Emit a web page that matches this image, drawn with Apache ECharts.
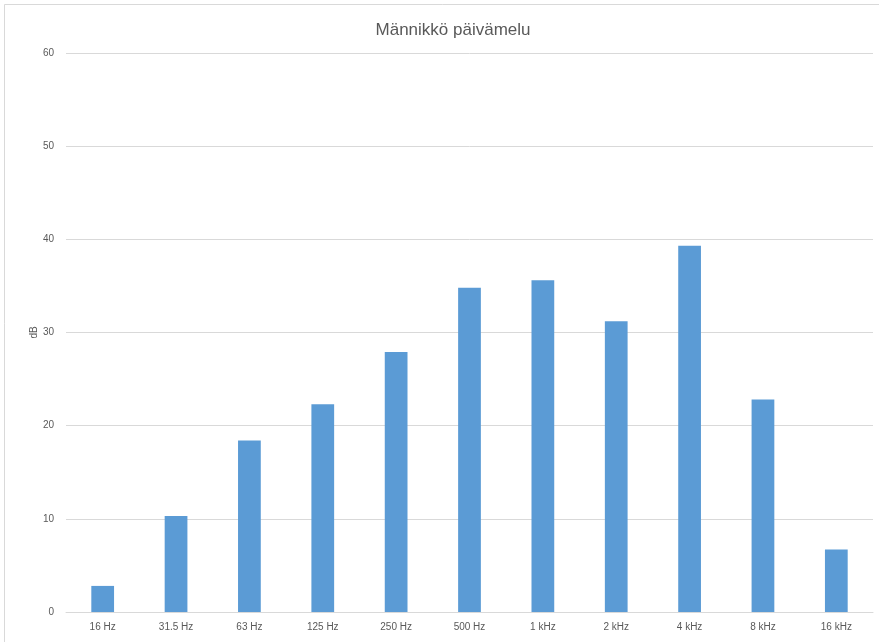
<!DOCTYPE html>
<html>
<head>
<meta charset="utf-8">
<script src="https://cdn.jsdelivr.net/npm/echarts@6/dist/echarts.min.js"></script>
<style>
  html, body { margin: 0; padding: 0; background: #fff; }
  #chart { width: 879px; height: 642px; }
</style>
</head>
<body>
<div id="chart"></div>
<script>
var categories = ["16 Hz", "31.5 Hz", "63 Hz", "125 Hz", "250 Hz", "500 Hz", "1 kHz", "2 kHz", "4 kHz", "8 kHz", "16 kHz"];
var levels = [2.8, 10.3, 18.4, 22.3, 27.9, 34.8, 35.6, 31.2, 39.3, 22.8, 6.7];
var yTicks = [0, 10, 20, 30, 40, 50, 60];

var font = "Liberation Sans, Arial, sans-serif";
var textGrey = "#595959";

var chart = echarts.init(document.getElementById("chart"), null, { renderer: "canvas" });

var option = {
  backgroundColor: "#fff",
  animation: false,
  title: {
    text: "Männikkö päivämelu",
    left: 448,
    top: 17,
    textAlign: "center",
    textStyle: {
      fontFamily: font,
      fontSize: 17,
      fontWeight: "normal",
      color: textGrey,
    },
  },
  graphic: [
    {
      type: "rect",
      shape: { x: 4.5, y: 4.5, width: 900, height: 700 },
      style: { fill: "none", stroke: "#d9d9d9", lineWidth: 1 },
      silent: true,
    },
  ],
  grid: {
    left: 66,
    right: 6,
    top: 53,
    bottom: 30,
  },
  xAxis: {
    type: "category",
    data: categories,
    axisLine: { show: true, lineStyle: { color: "#d9d9d9", width: 1 } },
    axisTick: { show: false },
    axisLabel: {
      margin: 10,
      fontFamily: font,
      fontSize: 10,
      color: textGrey,
    },
  },
  yAxis: {
    type: "value",
    min: yTicks[0],
    max: yTicks[yTicks.length - 1],
    interval: 10,
    name: "dB",
    nameLocation: "middle",
    nameGap: 27,
    nameMoveOverlap: false,
    nameRotate: 90,
    nameTextStyle: {
      fontFamily: font,
      fontSize: 10,
      color: textGrey,
    },
    axisLine: { show: false },
    axisTick: { show: false },
    axisLabel: {
      margin: 12,
      fontFamily: font,
      fontSize: 10,
      color: textGrey,
    },
    splitLine: { lineStyle: { color: "#d9d9d9", width: 1 } },
  },
  series: [
    {
      name: "dB",
      type: "bar",
      data: levels,
      barWidth: "31%",
      itemStyle: { color: "#5b9bd5" },
    },
  ],
};

chart.setOption(option);
</script>
</body>
</html>
